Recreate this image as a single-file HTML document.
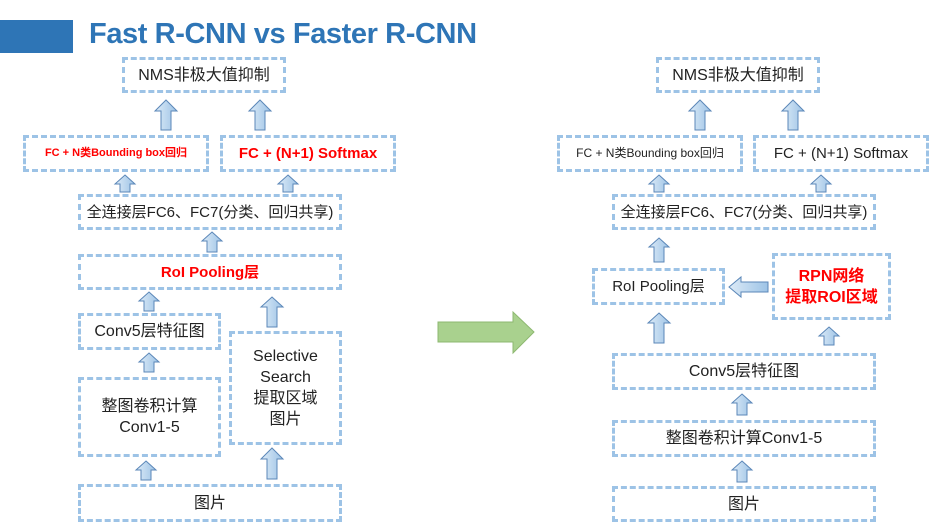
<!DOCTYPE html>
<html><head><meta charset="utf-8"><style>
body{margin:0;width:949px;height:526px;background:#fff;position:relative;overflow:hidden;font-family:"Liberation Sans","Noto Sans CJK SC",sans-serif;}
.b{position:absolute;box-sizing:border-box;border:3px dashed #9DC3E6;display:flex;align-items:center;justify-content:center;text-align:center;color:#222;font-size:16px;line-height:21px;}
.r{color:#f00;font-weight:bold;}
svg{position:absolute;left:0;top:0;}
</style></head><body>
<div style="position:absolute;left:0;top:20px;width:73px;height:33px;background:#2E75B6"></div>
<div style="position:absolute;left:89px;top:18px;font-size:29px;letter-spacing:-0.4px;font-weight:bold;color:#2E75B6;white-space:nowrap;">Fast R-CNN vs Faster R-CNN</div>

<div class="b" style="left:122px;top:57px;width:164px;height:36px;">NMS非极大值抑制</div>
<div class="b r" style="left:23px;top:135px;width:186px;height:37px;font-size:11px;">FC + N类Bounding box回归</div>
<div class="b r" style="left:220px;top:135px;width:176px;height:37px;font-size:15px;">FC + (N+1) Softmax</div>
<div class="b" style="left:78px;top:194px;width:264px;height:36px;font-size:15px;">全连接层FC6、FC7(分类、回归共享)</div>
<div class="b r" style="left:78px;top:254px;width:264px;height:36px;font-size:15px;">RoI Pooling层</div>
<div class="b" style="left:78px;top:313px;width:143px;height:37px;">Conv5层特征图</div>
<div class="b" style="left:78px;top:377px;width:143px;height:80px;">整图卷积计算<br>Conv1-5</div>
<div class="b" style="left:229px;top:331px;width:113px;height:114px;">Selective<br>Search<br>提取区域<br>图片</div>
<div class="b" style="left:78px;top:484px;width:264px;height:38px;">图片</div>

<div class="b" style="left:656px;top:57px;width:164px;height:36px;">NMS非极大值抑制</div>
<div class="b" style="left:557px;top:135px;width:186px;height:37px;font-size:12px;">FC + N类Bounding box回归</div>
<div class="b" style="left:753px;top:135px;width:176px;height:37px;font-size:15px;">FC + (N+1) Softmax</div>
<div class="b" style="left:612px;top:194px;width:264px;height:36px;font-size:15px;">全连接层FC6、FC7(分类、回归共享)</div>
<div class="b" style="left:592px;top:268px;width:133px;height:37px;font-size:15px;">RoI Pooling层</div>
<div class="b r" style="left:772px;top:253px;width:119px;height:67px;font-size:16px;">RPN网络<br>提取ROI区域</div>
<div class="b" style="left:612px;top:353px;width:264px;height:37px;">Conv5层特征图</div>
<div class="b" style="left:612px;top:420px;width:264px;height:37px;">整图卷积计算Conv1-5</div>
<div class="b" style="left:612px;top:486px;width:264px;height:36px;">图片</div>

<svg width="949" height="526">
<defs><linearGradient id="g" x1="0" x2="1"><stop offset="0" stop-color="#DDEBF7"/><stop offset="1" stop-color="#9DC3E6"/></linearGradient></defs>
<g fill="url(#g)" stroke="#5B87B8" stroke-width="1">
<path d="M166 100 L177 111 L171 111 L171 130 L161 130 L161 111 L155 111Z"/>
<path d="M260 100 L271 111 L265 111 L265 130 L255 130 L255 111 L249 111Z"/>
<path d="M125 175 L135 184 L130 184 L130 192 L120 192 L120 184 L115 184Z"/>
<path d="M288 175 L298 184 L293 184 L293 192 L283 192 L283 184 L278 184Z"/>
<path d="M212 232 L222 241 L217 241 L217 252 L207 252 L207 241 L202 241Z"/>
<path d="M149 292 L159 301 L154 301 L154 311 L144 311 L144 301 L139 301Z"/>
<path d="M149 353 L159 362 L154 362 L154 372 L144 372 L144 362 L139 362Z"/>
<path d="M272 297 L283 307 L277 307 L277 327 L267 327 L267 307 L261 307Z"/>
<path d="M146 461 L156 470 L151 470 L151 480 L141 480 L141 470 L136 470Z"/>
<path d="M272 448 L283 459 L277 459 L277 479 L267 479 L267 459 L261 459Z"/>
<path d="M700 100 L711 111 L705 111 L705 130 L695 130 L695 111 L689 111Z"/>
<path d="M793 100 L804 111 L798 111 L798 130 L788 130 L788 111 L782 111Z"/>
<path d="M659 175 L669 184 L664 184 L664 192 L654 192 L654 184 L649 184Z"/>
<path d="M821 175 L831 184 L826 184 L826 192 L816 192 L816 184 L811 184Z"/>
<path d="M659 238 L669 247 L664 247 L664 262 L654 262 L654 247 L649 247Z"/>
<path d="M659 313 L670 323 L664 323 L664 343 L654 343 L654 323 L648 323Z"/>
<path d="M829 327 L839 336 L834 336 L834 345 L824 345 L824 336 L819 336Z"/>
<path d="M742 394 L752 403 L747 403 L747 415 L737 415 L737 403 L732 403Z"/>
<path d="M742 461 L752 470 L747 470 L747 482 L737 482 L737 470 L732 470Z"/>
<path d="M729 287 L741 277 L741 282 L768 282 L768 292 L741 292 L741 297Z"/>
</g>
<path d="M438 322 L513 322 L513 312 L534 332 L513 353 L513 342 L438 342Z" fill="#A9D18E" stroke="#8DB870" stroke-width="1"/>
</svg>
</body></html>
